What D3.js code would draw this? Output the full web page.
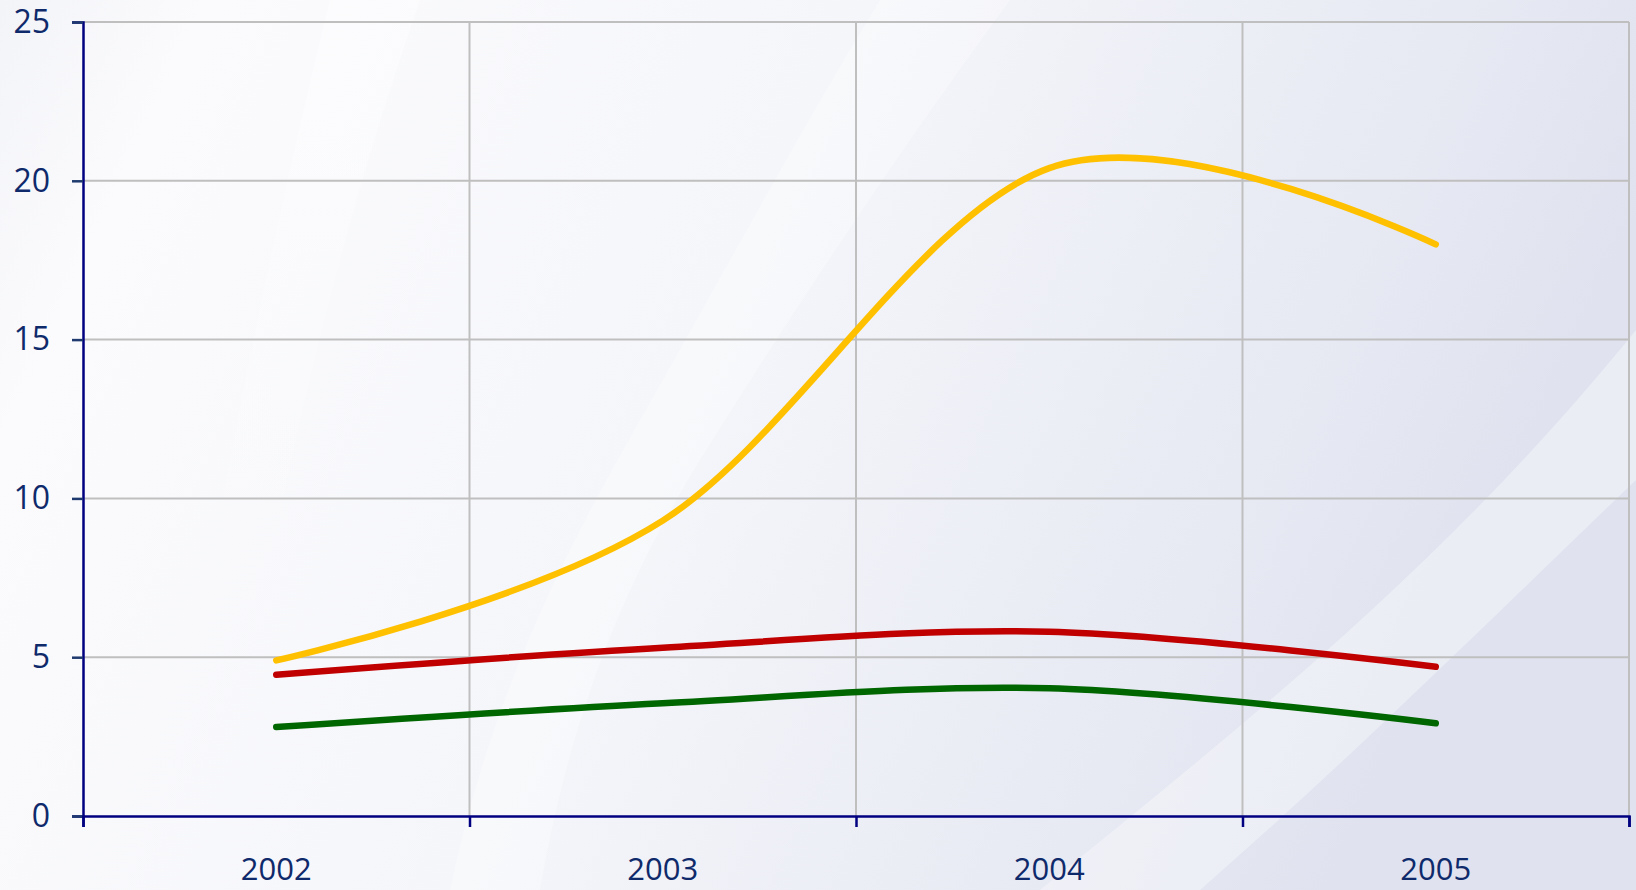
<!DOCTYPE html>
<html>
<head>
<meta charset="utf-8">
<script src="https://cdn.jsdelivr.net/npm/d3@7"></script>
<style>
  html, body { margin: 0; padding: 0; overflow: hidden; }
  svg { display: block; }
</style>
</head>
<body>
<svg id="chart"></svg>
<script>
// chart data
const years = ["2002", "2003", "2004", "2005"];
const yellowSeries = [4.9, 9.3, 20.4, 18.0];
const redSeries = [4.45, 5.3, 5.8, 4.7];
const greenSeries = [2.8, 3.55, 4.02, 2.92];
const yTicks = [0, 5, 10, 15, 20, 25];

const W = 1636, H = 890;
const margin = { top: 22, right: 7, bottom: 74, left: 83 };
const width = W - margin.left - margin.right;
const height = H - margin.top - margin.bottom;

const svg = d3.select("#chart").attr("width", W).attr("height", H);

// background gradient
const defs = svg.append("defs");
const bg = defs.append("linearGradient").attr("id", "bg")
  .attr("x1", "0").attr("y1", "0").attr("x2", "1").attr("y2", "0.25");
bg.append("stop").attr("offset", "0").attr("stop-color", "#f3f4f8");
bg.append("stop").attr("offset", "0.12").attr("stop-color", "#fbfbfd");
bg.append("stop").attr("offset", "0.5").attr("stop-color", "#f5f6fa");
bg.append("stop").attr("offset", "0.8").attr("stop-color", "#e9ebf4");
bg.append("stop").attr("offset", "1").attr("stop-color", "#e0e3ef");

// white streak that fades out towards the bottom
const fade = defs.append("linearGradient").attr("id", "fade")
  .attr("x1", "0").attr("y1", "0").attr("x2", "0").attr("y2", "1");
fade.append("stop").attr("offset", "0").attr("stop-color", "#ffffff").attr("stop-opacity", 0.7);
fade.append("stop").attr("offset", "1").attr("stop-color", "#ffffff").attr("stop-opacity", 0);

svg.append("rect").attr("width", W).attr("height", H).attr("fill", "url(#bg)");

// soft white swooshes in the backdrop
svg.append("path")
  .attr("d", "M330,0 L420,0 C350,200 300,400 260,620 L200,620 C240,400 280,200 330,0 Z")
  .attr("fill", "url(#fade)").attr("opacity", 0.6);
svg.append("path")
  .attr("d", "M880,0 L1010,0 C900,150 800,300 700,460 C620,590 570,720 540,890 L450,890 C490,700 560,560 640,420 C720,280 800,130 880,0 Z")
  .attr("fill", "#ffffff").attr("opacity", 0.3);
svg.append("path")
  .attr("d", "M1636,330 C1450,560 1250,720 1040,890 L1200,890 C1360,750 1500,610 1636,480 Z")
  .attr("fill", "#ffffff").attr("opacity", 0.35);

const g = svg.append("g")
  .attr("transform", "translate(" + margin.left + "," + margin.top + ")");

// scales
const x = d3.scaleBand().domain(years).range([0, width]).padding(0);
const xEdge = d3.scaleLinear().domain([0, years.length]).range([0, width]);
const y = d3.scaleLinear().domain([0, 25]).range([height, 0]);

// grid
g.append("g")
  .selectAll("line")
  .data(yTicks.slice(1))
  .enter().append("line")
  .attr("x1", 0).attr("x2", width)
  .attr("y1", d => y(d)).attr("y2", d => y(d))
  .attr("stroke", "#bfbfbf").attr("stroke-width", 2);

g.append("g")
  .selectAll("line")
  .data(d3.range(1, years.length + 1))
  .enter().append("line")
  .attr("x1", d => xEdge(d)).attr("x2", d => xEdge(d))
  .attr("y1", 0).attr("y2", height)
  .attr("stroke", "#bfbfbf").attr("stroke-width", 2);

// lines
const line = d3.line()
  .x((d, i) => x(years[i]) + x.bandwidth() / 2)
  .y(d => y(d))
  .curve(d3.curveCatmullRom.alpha(0));

const seriesList = [
  { values: greenSeries, color: "#006600" },
  { values: redSeries, color: "#c00000" },
  { values: yellowSeries, color: "#ffc000" }
];

seriesList.forEach(s => {
  g.append("path")
    .datum(s.values)
    .attr("fill", "none")
    .attr("stroke", s.color)
    .attr("stroke-width", 6.5)
    .attr("stroke-linecap", "round")
    .attr("stroke-linejoin", "round")
    .attr("d", line);
});

// y axis
const yAxis = g.append("g")
  .call(d3.axisLeft(y).tickValues(yTicks).tickSize(11).tickPadding(22));
yAxis.select(".domain").attr("stroke", "#000080").attr("stroke-width", 2.5);
yAxis.selectAll(".tick line").attr("stroke", "#1f3a6e").attr("stroke-width", 2.5);
yAxis.selectAll("text")
  .attr("fill", "#0f2a6b")
  .style("font-family", "'Open Sans', sans-serif")
  .style("font-size", "32px");

// x axis: ticks at band edges, labels at band centres
const xTicksAxis = g.append("g")
  .attr("transform", "translate(0," + height + ")")
  .call(d3.axisBottom(xEdge).tickValues(d3.range(0, years.length + 1)).tickSize(11).tickFormat(""));
xTicksAxis.select(".domain").attr("stroke", "#000080").attr("stroke-width", 2.5);
xTicksAxis.selectAll(".tick line").attr("stroke", "#000080").attr("stroke-width", 2.5);

const xLabels = g.append("g")
  .attr("transform", "translate(0," + height + ")")
  .call(d3.axisBottom(x).tickSize(0).tickPadding(42));
xLabels.select(".domain").remove();
xLabels.selectAll("text")
  .attr("fill", "#0f2a6b")
  .style("font-family", "'Open Sans', sans-serif")
  .style("font-size", "31px");
</script>
</body>
</html>
